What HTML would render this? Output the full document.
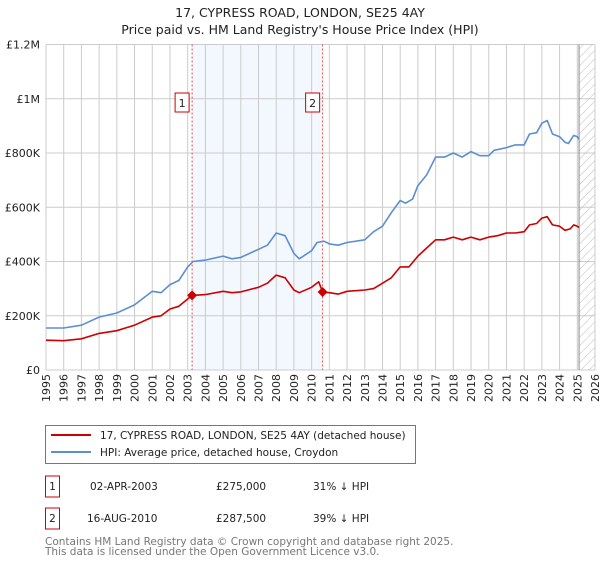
<!DOCTYPE html>
<html><head><meta charset="utf-8"><style>
body{margin:0;background:#fff;font-family:"Liberation Sans","DejaVu Sans",sans-serif;}
svg text{font-family:"DejaVu Sans","Liberation Sans",sans-serif;}
</style></head><body>
<svg id="c" width="600" height="560" xmlns="http://www.w3.org/2000/svg">
<defs><pattern id="hatch" width="6" height="6" patternUnits="userSpaceOnUse" patternTransform="rotate(45)"><line x1="0" y1="0" x2="0" y2="6" stroke="#bbb" stroke-width="1"/></pattern></defs>
<text x="300" y="17" text-anchor="middle" font-size="12.5" fill="#222">17, CYPRESS ROAD, LONDON, SE25 4AY</text>
<text x="300" y="34" text-anchor="middle" font-size="12.5" fill="#222">Price paid vs. HM Land Registry's House Price Index (HPI)</text>
<g id="plot"></g>
<rect x="45.5" y="425.5" width="370" height="38" fill="#fff" stroke="#777"/>
<line x1="51" y1="435" x2="91" y2="435" stroke="#cc0000" stroke-width="2"/>
<text x="100" y="439" font-size="10.5" fill="#222">17, CYPRESS ROAD, LONDON, SE25 4AY (detached house)</text>
<line x1="51" y1="452" x2="91" y2="452" stroke="#5b8fd0" stroke-width="2"/>
<text x="100" y="456" font-size="10.5" fill="#222">HPI: Average price, detached house, Croydon</text>
<rect x="45.5" y="476" width="14" height="21" fill="#fff" stroke="#cc0000"/>
<text x="52.5" y="490" text-anchor="middle" font-size="10.5" fill="#222">1</text>
<text x="90" y="490" font-size="10.5" fill="#222">02-APR-2003</text>
<text x="216" y="490" font-size="10.5" fill="#222">£275,000</text>
<text x="313" y="490" font-size="10.5" fill="#222">31% ↓ HPI</text>
<rect x="45.5" y="508" width="14" height="21" fill="#fff" stroke="#cc0000"/>
<text x="52.5" y="522" text-anchor="middle" font-size="10.5" fill="#222">2</text>
<text x="87" y="522" font-size="10.5" fill="#222">16-AUG-2010</text>
<text x="216" y="522" font-size="10.5" fill="#222">£287,500</text>
<text x="313" y="522" font-size="10.5" fill="#222">39% ↓ HPI</text>
<text x="45" y="545" font-size="10.5" fill="#777">Contains HM Land Registry data © Crown copyright and database right 2025.</text>
<text x="45" y="555" font-size="10.5" fill="#777">This data is licensed under the Open Government Licence v3.0.</text>
</svg>
<script>
const yTicks=[0,200,400,600,800,1000,1200];
const yTickLabels=["£0","£200K","£400K","£600K","£800K","£1M","£1.2M"];
const years=[1995,1996,1997,1998,1999,2000,2001,2002,2003,2004,2005,2006,2007,2008,2009,2010,2011,2012,2013,2014,2015,2016,2017,2018,2019,2020,2021,2022,2023,2024,2025,2026];
const hpiT=[1995,1996,1997,1998,1999,2000,2001,2001.5,2002,2002.5,2003,2003.3,2004,2005,2005.5,2006,2007,2007.5,2008,2008.5,2009,2009.3,2010,2010.3,2010.7,2011,2011.5,2012,2013,2013.5,2014,2014.5,2015,2015.3,2015.7,2016,2016.5,2017,2017.5,2018,2018.5,2019,2019.5,2020,2020.3,2021,2021.5,2022,2022.3,2022.7,2023,2023.3,2023.6,2024,2024.3,2024.5,2024.8,2025,2025.1];
const hpiV=[155,155,165,195,210,240,290,285,315,330,380,400,405,420,410,415,445,460,505,495,430,410,440,470,475,465,460,470,480,510,530,580,625,615,630,680,720,785,785,800,785,805,790,790,810,820,830,830,870,875,910,920,870,860,840,835,865,860,850];
const propT=[1995,1996,1997,1998,1999,2000,2001,2001.5,2002,2002.5,2003.25,2004,2005,2005.5,2006,2007,2007.5,2008,2008.5,2009,2009.3,2010,2010.4,2010.62,2011,2011.5,2012,2013,2013.5,2014,2014.5,2015,2015.5,2016,2016.5,2017,2017.5,2018,2018.5,2019,2019.5,2020,2020.5,2021,2021.5,2022,2022.3,2022.7,2023,2023.3,2023.6,2024,2024.3,2024.6,2024.8,2025,2025.1];
const propV=[110,108,115,135,145,165,195,200,225,235,275,278,290,285,288,305,320,350,340,295,285,305,325,287.5,285,280,290,295,300,320,340,380,380,420,450,480,480,490,480,490,480,490,495,505,505,510,535,540,560,565,535,530,515,520,535,530,525];
const saleT=[2003.25,2010.62];
const saleV=[275,287.5];
const saleLabels=["1","2"];
const dataEnd=2025.1;

const X0=46,X1=595,Y0=370,Y1=44.5;
const x=t=>X0+(t-1995)/(2026-1995)*(X1-X0);
const y=v=>Y0-(v/1200)*(Y0-Y1);
const NS="http://www.w3.org/2000/svg";
const g=document.getElementById('plot');
function mk(tag,attrs,parent){const e=document.createElementNS(NS,tag);for(const k in attrs)e.setAttribute(k,attrs[k]);(parent||g).appendChild(e);return e;}

let e=mk('rect',{x:x(saleT[0]),y:Y1,width:x(saleT[1])-x(saleT[0]),height:Y0-Y1,fill:'#f3f7fe'});


years.forEach(yr=>{
  const l=mk('line',{x1:x(yr),x2:x(yr),y1:Y1,y2:Y0,stroke:'#ccc','stroke-width':1});
  
  
  const t=mk('text',{x:0,y:0,'font-size':11,fill:'#222','text-anchor':'end',transform:`translate(${x(yr)+4},${Y0+4}) rotate(-90)`});
  t.textContent=yr;
  
  
});
yTicks.forEach((v,i)=>{
  const l=mk('line',{x1:X0,x2:X1,y1:y(v),y2:y(v),stroke:'#ccc','stroke-width':1});
  
  
  const t=mk('text',{x:X0-6,y:y(v)+4,'font-size':11,fill:'#222','text-anchor':'end'});
  t.textContent=yTickLabels[i];
  
  
});
e=mk('rect',{x:x(dataEnd),y:Y1,width:X1-x(dataEnd),height:Y0-Y1,fill:'url(#hatch)'});


e=mk('line',{x1:x(dataEnd),x2:x(dataEnd),y1:Y1,y2:Y0,stroke:'#888','stroke-width':1});


saleT.forEach((t,i)=>{
  const l=mk('line',{x1:x(t),x2:x(t),y1:Y1,y2:Y0,stroke:'#e05050','stroke-width':1,'stroke-dasharray':'2,2'});
  
  
});
function path(T,V,col,name){
  const d=T.map((t,i)=>(i?'L':'M')+x(t).toFixed(1)+','+y(V[i]).toFixed(1)).join('');
  const p=mk('path',{d:d,fill:'none',stroke:col,'stroke-width':1.6,'stroke-linejoin':'round'});
  
  
}
path(hpiT,hpiV,'#5b8fd0','hpi-line');
path(propT,propV,'#cc0000','property-line');
saleT.forEach((t,i)=>{
  const cx=x(t),cy=y(saleV[i]);
  const d=mk('path',{d:`M${cx},${cy-5}L${cx+5},${cy}L${cx},${cy+5}L${cx-5},${cy}Z`,fill:'#cc0000'});
  
  
  const b=mk('rect',{x:cx-17,y:93,width:14,height:19,fill:'#fff',stroke:'#cc0000'});
  
  
  const tx=mk('text',{x:cx-10,y:107,'font-size':11,fill:'#222','text-anchor':'middle'});
  tx.textContent=saleLabels[i];
  
  
});
</script>
</body></html>
